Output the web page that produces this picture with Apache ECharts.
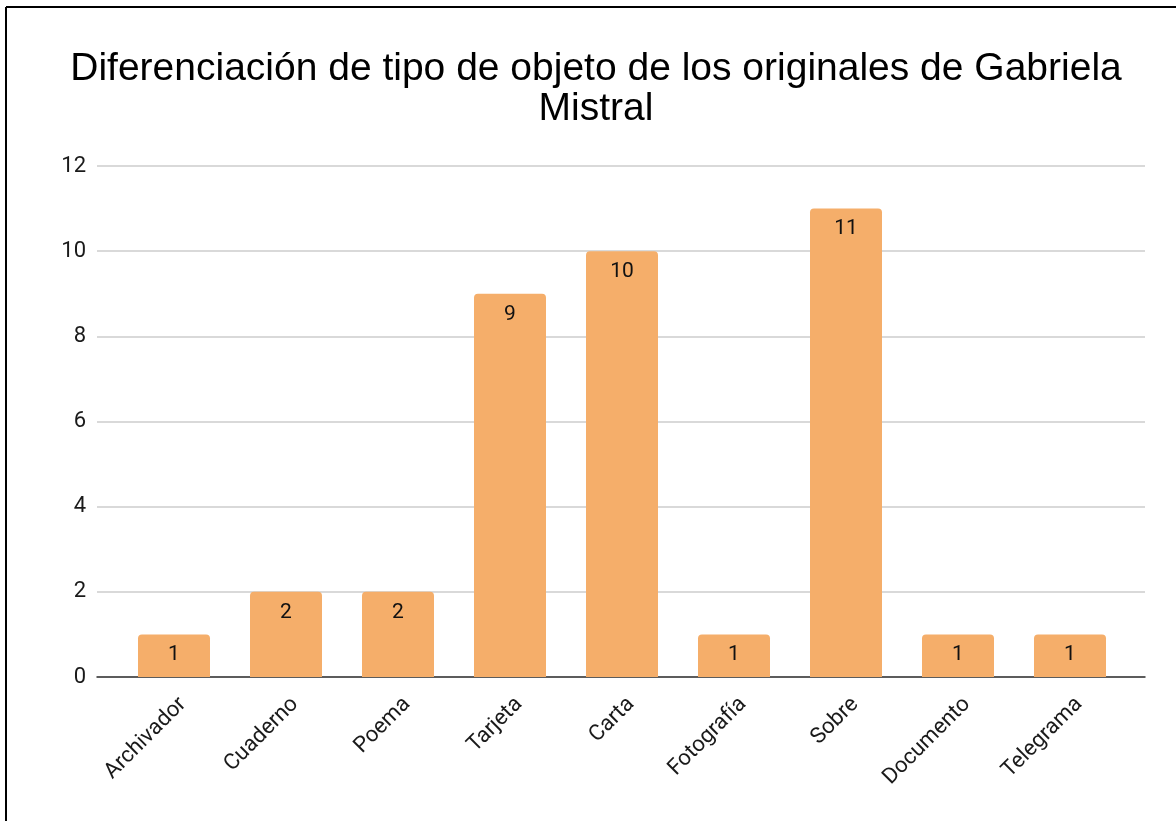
<!DOCTYPE html>
<html>
<head>
<meta charset="utf-8">
<title>Diferenciación de tipo de objeto</title>
<script src="https://cdn.jsdelivr.net/npm/echarts@6/dist/echarts.min.js"></script>
<style>
  html, body { margin: 0; padding: 0; background: #fff; }
  #chart { width: 1176px; height: 821px; }
</style>
</head>
<body>
<div id="chart"></div>
<script>
//---------------------------Data---------------------------
let categories = ['Archivador', 'Cuaderno', 'Poema', 'Tarjeta', 'Carta', 'Fotografía', 'Sobre', 'Documento', 'Telegrama'];
let counts = [1, 2, 2, 9, 10, 1, 11, 1, 1];
let yTicks = [0, 2, 4, 6, 8, 10, 12];

let titleText = 'Diferenciación de tipo de objeto de los originales de Gabriela\nMistral';

//---------------------------UI---------------------------
let chart = echarts.init(document.getElementById('chart'));

let yMin = yTicks[0];
let yMax = yTicks[yTicks.length - 1];

let option = {
    backgroundColor: '#ffffff',
    animation: false,
    title: {
        text: titleText,
        left: 591,
        top: 44,
        textAlign: 'center',
        textStyle: {
            fontFamily: '"Liberation Sans", Arial, sans-serif',
            fontSize: 39,
            fontWeight: 'normal',
            color: '#000',
            lineHeight: 40
        }
    },
    //frame round the picture (top and left edge only)
    graphic: [
        { type: 'line', shape: { x1: 6, y1: 7, x2: 1176, y2: 7 }, style: { stroke: '#000', lineWidth: 2 } },
        { type: 'line', shape: { x1: 6, y1: 7, x2: 6, y2: 821 }, style: { stroke: '#000', lineWidth: 2 } }
    ],
    grid: [
        //gridlines + baseline
        { left: 97, right: 31, top: 166, bottom: 144 },
        //bars
        { left: 118, right: 50, top: 166, bottom: 144 },
        //rotated category labels (nudged right so the text ends sit like the original)
        { left: 127, right: 41, top: 166, bottom: 144 }
    ],
    xAxis: [
        {
            type: 'value',
            gridIndex: 0,
            min: 0,
            max: 1,
            axisLine: { show: true, onZero: true, lineStyle: { color: '#333', width: 1.5 } },
            axisTick: { show: false },
            axisLabel: { show: false },
            splitLine: { show: false }
        },
        {
            type: 'category',
            gridIndex: 1,
            data: categories,
            axisLine: { show: false },
            axisTick: { show: false },
            axisLabel: { show: false }
        },
        {
            type: 'category',
            gridIndex: 2,
            data: categories,
            axisLine: { show: false },
            axisTick: { show: false },
            axisLabel: {
                rotate: 45,
                interval: 0,
                margin: 24,
                fontFamily: 'Roboto, sans-serif',
                fontSize: 22,
                color: '#1a1a1a'
            }
        }
    ],
    yAxis: [
        {
            type: 'value',
            gridIndex: 0,
            min: yMin,
            max: yMax,
            interval: 2,
            axisLine: { show: false },
            axisTick: { show: false },
            axisLabel: {
                margin: 11,
                fontFamily: 'Roboto, sans-serif',
                fontSize: 22,
                color: '#1a1a1a'
            },
            splitLine: { lineStyle: { color: '#cccccc', width: 1.5 } }
        },
        {
            type: 'value',
            gridIndex: 1,
            min: yMin,
            max: yMax,
            show: false
        },
        {
            type: 'value',
            gridIndex: 2,
            min: yMin,
            max: yMax,
            show: false
        }
    ],
    series: [
        {
            type: 'bar',
            xAxisIndex: 1,
            yAxisIndex: 1,
            data: counts,
            barWidth: 72,
            itemStyle: { color: '#F5AE6A', borderRadius: [4, 4, 0, 0] },
            label: {
                show: true,
                position: 'insideTop',
                distance: 10,
                fontFamily: 'Roboto, sans-serif',
                fontSize: 21,
                color: '#111'
            }
        }
    ]
};

chart.setOption(option);
</script>
</body>
</html>
